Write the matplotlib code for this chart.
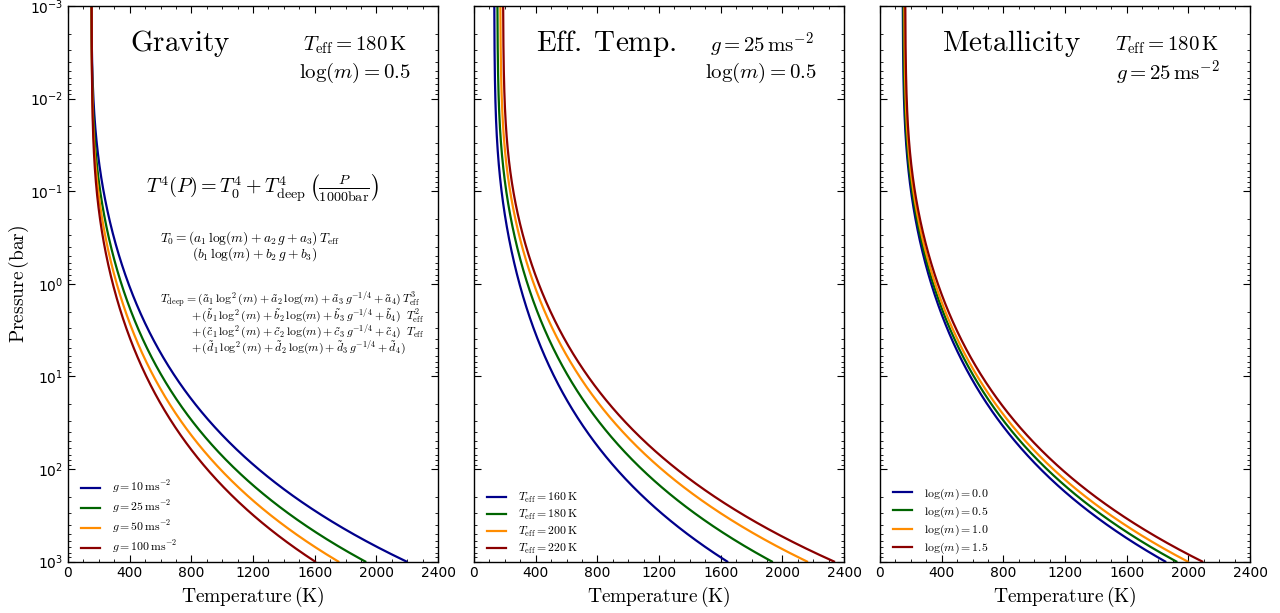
import numpy as np
import matplotlib
matplotlib.use("Agg")
import matplotlib.pyplot as plt
from matplotlib.font_manager import FontProperties
from matplotlib.ticker import MultipleLocator, LogLocator, NullFormatter

# ---------------- data ----------------
colors = ["#00008B", "#006400", "#FF8C00", "#8B0000"]

# Panel 1: gravity
grav_labels = [r"$g = 10\,\mathrm{ms^{-2}}$", r"$g = 25\,\mathrm{ms^{-2}}$",
               r"$g = 50\,\mathrm{ms^{-2}}$", r"$g = 100\,\mathrm{ms^{-2}}$"]
grav_T0 = [150, 151, 152, 153]          # K, temperature at top
grav_Tdeep = [2195, 1928, 1753, 1602]   # K, temperature at 1000 bar

# Panel 2: effective temperature
teff_labels = [r"$T_{\rm eff} = 160\,\mathrm{K}$", r"$T_{\rm eff} = 180\,\mathrm{K}$",
               r"$T_{\rm eff} = 200\,\mathrm{K}$", r"$T_{\rm eff} = 220\,\mathrm{K}$"]
teff_T0 = [131, 151, 170, 188]
teff_Tdeep = [1642, 1932, 2160, 2335]

# Panel 3: metallicity
met_labels = [r"$\log(m) = 0.0$", r"$\log(m) = 0.5$",
              r"$\log(m) = 1.0$", r"$\log(m) = 1.5$"]
met_T0 = [147, 151, 157, 163]
met_Tdeep = [1850, 1922, 1995, 2090]

panel_titles = [r"$\mathrm{Gravity}$", r"$\mathrm{Eff.\;Temp.}$", r"$\mathrm{Metallicity}$"]
panel_info1 = [r"$T_{\rm eff} = 180\,\mathrm{K}$", r"$g = 25\,\mathrm{ms^{-2}}$",
               r"$T_{\rm eff} = 180\,\mathrm{K}$"]
panel_info2 = [r"$\log(m) = 0.5$", r"$\log(m) = 0.5$", r"$g = 25\,\mathrm{ms^{-2}}$"]

xticks = [0, 400, 800, 1200, 1600, 2000, 2400]

# ---------------- plotting ----------------
plt.rcParams["mathtext.fontset"] = "dejavusans"
plt.rcParams["font.family"] = ["DejaVu Sans"]

fig = plt.figure(figsize=(12.8, 6.13), dpi=100)
W, H = 1280.0, 613.0
lefts = [68, 474, 880]
aw = 370
bottom_px, top_px = 561.5, 6.0

P = np.logspace(-3, 3, 600)

def profile(T0, Td):
    return (T0 ** 4 + Td ** 4 * (P / 1000.0)) ** 0.25

series = [(grav_T0, grav_Tdeep, grav_labels),
          (teff_T0, teff_Tdeep, teff_labels),
          (met_T0, met_Tdeep, met_labels)]

legfont = FontProperties(size=8.5, math_fontfamily="cm")

for i, (T0s, Tds, labs) in enumerate(series):
    ax = fig.add_axes([lefts[i] / W, (H - bottom_px) / H, aw / W, (bottom_px - top_px) / H])
    for T0, Td, lab, c in zip(T0s, Tds, labs, colors):
        ax.plot(profile(T0, Td), P, color=c, lw=1.6, label=lab)
    ax.set_yscale("log")
    ax.set_ylim(1e3, 1e-3)
    ax.set_xlim(0, 2400)
    ax.set_xticks(xticks)
    ax.xaxis.set_minor_locator(MultipleLocator(100))
    ax.yaxis.set_major_locator(LogLocator(base=10, numticks=20))
    ax.yaxis.set_minor_locator(LogLocator(base=10, subs=np.arange(2, 10), numticks=20))
    ax.yaxis.set_minor_formatter(NullFormatter())
    ax.tick_params(which="both", direction="in", top=True, right=True, labelsize=10)
    ax.tick_params(which="major", length=5, width=0.8)
    ax.tick_params(which="minor", length=2.5, width=0.6)
    if i > 0:
        ax.set_yticklabels([])
    else:
        ax.set_ylabel(r"$\mathrm{Pressure\,(bar)}$", fontsize=14, math_fontfamily="cm")
        ax.yaxis.set_label_coords(-0.099, 0.5)
    ax.set_xlabel(r"$\mathrm{Temperature\,(K)}$", fontsize=14, math_fontfamily="cm", labelpad=3)
    for s in ax.spines.values():
        s.set_linewidth(1.0)

    ax.text(0.167, 0.932, panel_titles[i],
            transform=ax.transAxes, ha="left", va="center", fontsize=21, math_fontfamily="cm")
    ax.text(0.777, 0.930, panel_info1[i], transform=ax.transAxes, ha="center", va="center",
            fontsize=15, math_fontfamily="cm")
    ax.text(0.777, 0.879, panel_info2[i], transform=ax.transAxes, ha="center", va="center",
            fontsize=15, math_fontfamily="cm")

    ax.legend(loc="lower left", frameon=False, prop=legfont, handlelength=1.6,
              handletextpad=1.0, labelspacing=0.25, borderaxespad=0.0, borderpad=0.4,
              bbox_to_anchor=(0.0224, 0.001))

    if i == 0:
        ax.text(0.526, 0.672,
                r"$T^4(P) = T_0^4 + T_{\rm deep}^4\,\left(\frac{P}{1000\mathrm{bar}}\right)$",
                transform=ax.transAxes, ha="center", va="center", fontsize=14.5, math_fontfamily="cm")
        x1, x2 = 0.248, 0.335
        small = 8.5
        mid = 9.7
        ax.text(x1, 0.582, r"$T_0 = (a_1\,\log(m) + a_2\,g + a_3)\,T_{\rm eff}$",
                transform=ax.transAxes, ha="left", va="center", fontsize=mid, math_fontfamily="cm")
        ax.text(x2, 0.554, r"$(b_1\,\log(m) + b_2\,g + b_3)$",
                transform=ax.transAxes, ha="left", va="center", fontsize=mid, math_fontfamily="cm")
        ax.text(x1, 0.471,
                r"$T_{\rm deep} = (\tilde{a}_1\,\log^2(m) + \tilde{a}_2\,\log(m) + \tilde{a}_3\,g^{-1/4} + \tilde{a}_4)\,T_{\rm eff}^3$",
                transform=ax.transAxes, ha="left", va="center", fontsize=small, math_fontfamily="cm")
        ax.text(x2 - 0.003, 0.442,
                r"$+\,(\tilde{b}_1\,\log^2(m) + \tilde{b}_2\,\log(m) + \tilde{b}_3\,g^{-1/4} + \tilde{b}_4)\;\;T_{\rm eff}^2$",
                transform=ax.transAxes, ha="left", va="center", fontsize=small, math_fontfamily="cm")
        ax.text(x2 - 0.003, 0.413,
                r"$+\,(\tilde{c}_1\,\log^2(m) + \tilde{c}_2\,\log(m) + \tilde{c}_3\,g^{-1/4} + \tilde{c}_4)\;\;T_{\rm eff}$",
                transform=ax.transAxes, ha="left", va="center", fontsize=small, math_fontfamily="cm")
        ax.text(x2 - 0.003, 0.384,
                r"$+\,(\tilde{d}_1\,\log^2(m) + \tilde{d}_2\,\log(m) + \tilde{d}_3\,g^{-1/4} + \tilde{d}_4)$",
                transform=ax.transAxes, ha="left", va="center", fontsize=small, math_fontfamily="cm")

fig.savefig("out.png", dpi=100)
